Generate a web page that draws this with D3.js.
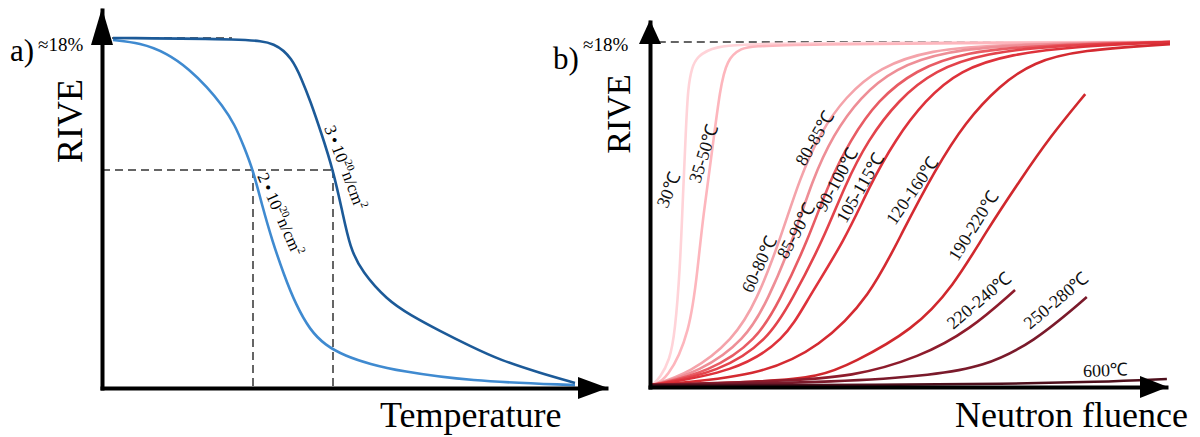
<!DOCTYPE html>
<html>
<head>
<meta charset="utf-8">
<script src="https://cdn.jsdelivr.net/npm/d3@7"></script>
<style>
   body { margin: 0; background: #fff; }
   svg { font-family: "Liberation Serif", "Times New Roman", serif; }
</style>
</head>
<body>
<div class="chart-container"></div>
<script>
// ---- panel a: RIVE (%) against temperature (relative units 0-100) ----
const rive_top = 18;
const low_fluence = [[2.2, 17.9], [7.6, 17.75], [13, 17.23], [17.6, 16.36], [21, 15.48], [24, 14.56],
   [26.6, 13.53], [28.4, 12.4], [30.2, 11.21], [32, 9.41], [34, 7.61], [36.4, 5.81], [38.8, 4.27],
   [41.6, 2.98], [44.6, 2.21], [48.6, 1.65], [53.6, 1.23], [59.6, 0.87], [73, 0.36], [94.6, 0.15]];
const high_fluence = [[2.2, 18.0], [29.6, 17.95], [34.6, 17.75], [38, 16.98], [40, 15.84], [41.6, 14.81],
   [44, 13.01], [46.2, 11.21], [48, 9.16], [49.6, 7.2], [52, 5.97], [57, 4.53], [61.6, 3.76],
   [67.6, 2.93], [73.6, 2.16], [79.6, 1.44], [87.6, 0.77], [94.6, 0.26]];
const fluence_names = ['2', '3'];
const guide_level = 11.21;
const guide_temps = [30.2, 46.2];

// ---- panel b: RIVE (%) against neutron fluence (relative units 0-100) ----
const temp_ranges = ['30℃', '35-50℃', '60-80℃', '80-85℃', '85-90℃', '90-100℃',
   '105-115℃', '120-160℃', '190-220℃', '220-240℃', '250-280℃', '600℃'];
const curve_30 = [[0.4, 0.1], [1.9, 0.47], [3.8, 1.41], [4.8, 2.82], [5.8, 6.26], [6.3, 9.76], [6.9, 13.4],
   [7.3, 15.65], [8.1, 16.7], [9.0, 17.21], [12.1, 17.79], [21.2, 17.95], [100, 18]];
const curve_35_50 = [[0.4, 0.1], [3.3, 0.37], [7.7, 2.82], [9.2, 6.26], [10.2, 8.87], [11.9, 12.2],
   [13.5, 15.65], [14.8, 17.06], [17.3, 17.68], [21.2, 17.89], [100, 18]];
const curve_60_80 = [[0.4, 0.1], [7.7, 0.73], [16.0, 2.45], [20.6, 4.54], [25.0, 7.67], [28.8, 10.9],
   [32.7, 13.25], [37.5, 15.13], [44.2, 16.7], [53.8, 17.58], [67.3, 17.89], [100, 18]];
const curve_80_85 = [[0.4, 0.1], [9.6, 0.78], [18.3, 2.45], [22.7, 4.54], [27.5, 7.67], [31.2, 10.8],
   [35.2, 13.15], [40.4, 15.13], [47.1, 16.64], [56.7, 17.53], [71.2, 17.89], [100, 18]];
const curve_85_90 = [[0.4, 0.1], [11.5, 0.78], [20.6, 2.45], [25.0, 4.54], [30.4, 7.67], [34.2, 10.54],
   [38.5, 12.88], [43.8, 14.97], [51.0, 16.54], [60.6, 17.48], [75.0, 17.84], [100, 18]];
const curve_90_100 = [[0.4, 0.1], [13.5, 0.78], [22.7, 2.45], [27.3, 4.54], [33.3, 7.67], [37.5, 10.54],
   [41.9, 12.88], [47.7, 14.97], [54.8, 16.54], [64.4, 17.42], [78.8, 17.84], [100, 18]];
const curve_105_115 = [[0.4, 0.1], [16.3, 0.78], [26.0, 2.45], [30.2, 4.54], [37.5, 7.67], [42.3, 10.54],
   [47.1, 12.88], [52.9, 14.97], [59.6, 16.54], [69.2, 17.37], [82.7, 17.79], [100, 18]];
const curve_120_160 = [[0.4, 0.1], [21.2, 0.57], [32.7, 2.09], [42.3, 4.69], [48.7, 8.19], [54.8, 11.32],
   [60.6, 13.82], [67.3, 15.75], [73.7, 16.95], [82.7, 17.58], [100, 17.89]];
const curve_190_220 = [[0.4, 0.1], [21.2, 0.26], [32.7, 0.52], [39.0, 1.25], [50.6, 2.97], [58.3, 5.22],
   [64.8, 8.19], [71.2, 10.8], [76.9, 13.04], [83.7, 15.28]];
const curve_220_240 = [[0.4, 0.1], [25.0, 0.31], [39.0, 0.52], [51.9, 1.56], [61.5, 2.97], [70.2, 5.06]];
const curve_250_280 = [[0.4, 0.1], [38.5, 0.26], [54.4, 0.63], [64.0, 1.04], [73.7, 2.3], [84.0, 4.69]];
const curve_600 = [[0.4, 0.1], [48.1, 0.1], [67.3, 0.16], [86.5, 0.26], [99.4, 0.42]];

const fluence_curves = [curve_30, curve_35_50, curve_60_80, curve_80_85, curve_85_90, curve_90_100,
   curve_105_115, curve_120_160, curve_190_220, curve_220_240, curve_250_280, curve_600];

// styles and label placement (label spots are in data units of panel b)
const curve_colors = ['#ffd3d8', '#fdb6bd', '#f4a3aa', '#ee8e96', '#e85c64', '#e3434b',
   '#de323b', '#d42a31', '#d0282d', '#8e1c2c', '#7a1a2b', '#4d0f1c'];
const label_spots = [[3.3, 9.29, -67], [9.6, 10.59, -72], [19.6, 4.85, -65], [29.8, 11.48, -60],
   [26.3, 6.62, -61], [33.7, 9.08, -61], [37.7, 8.5, -60], [47.1, 8.4, -55], [59.2, 6.52, -58],
   [58.3, 2.97, -40], [73.1, 2.97, -40], [83.3, 0.52, -2]];
const fluence_label_spots = [[31.0, 10.9, 66], [44.4, 13.37, 69]];

function build_scales(frame) {
   return {
      x: d3.scaleLinear().domain([0, 100]).range([frame.left, frame.right]),
      y: d3.scaleLinear().domain([0, rive_top]).range([frame.bottom, frame.top])
   };
}

function draw_axes(svg, frame, tips) {
   const xAxisScale = d3.scaleLinear().range([frame.left - 2, tips.x]);
   const yAxisScale = d3.scaleLinear().range([frame.bottom + 2, tips.y]);

   svg.append('g')
      .attr('transform', `translate(0, ${frame.bottom})`)
      .call(d3.axisBottom(xAxisScale).tickValues([]).tickSizeOuter(0))
      .select('.domain').attr('stroke', '#000').attr('stroke-width', 4);
   svg.append('g')
      .attr('transform', `translate(${frame.left}, 0)`)
      .call(d3.axisLeft(yAxisScale).tickValues([]).tickSizeOuter(0))
      .select('.domain').attr('stroke', '#000').attr('stroke-width', 4);

   // arrow heads
   svg.append('path')
      .attr('d', `M${tips.x},${frame.bottom} L${tips.x - tips.len},${frame.bottom - 11} L${tips.x - tips.len},${frame.bottom + 11}Z`)
      .attr('fill', '#000');
   svg.append('path')
      .attr('d', `M${frame.left},${tips.y} L${frame.left - 11},${tips.y + tips.ylen} L${frame.left + 11},${tips.y + tips.ylen}Z`)
      .attr('fill', '#000');
}

function add_titles(svg, frame, t) {
   svg.append('text')
      .attr('x', t.tag_x).attr('y', t.tag_y)
      .attr('font-size', 31)
      .text(t.tag);
   svg.append('text')
      .attr('x', t.pct_x).attr('y', 51)
      .attr('font-size', 19)
      .text('≈18%');
   svg.append('text')
      .attr('transform', `translate(${t.rive_x}, ${t.rive_y}) rotate(-90)`)
      .attr('text-anchor', 'middle')
      .attr('font-size', t.rive_size)
      .text('RIVE');
   svg.append('text')
      .attr('x', t.title_x).attr('y', 427)
      .attr('font-size', 36)
      .text(t.title);
}

function draw_panel_a(svg) {
   const frame = {left: 102, right: 602, top: 38, bottom: 388};
   const s = build_scales(frame);

   // dashed guides
   const dash = '8,5';
   svg.append('line')
      .attr('x1', s.x(2)).attr('x2', s.x(26)).attr('y1', s.y(rive_top)).attr('y2', s.y(rive_top))
      .attr('stroke', '#333').attr('stroke-width', 1.5).attr('stroke-dasharray', dash);
   svg.append('line')
      .attr('x1', s.x(0)).attr('x2', s.x(d3.max(guide_temps)))
      .attr('y1', s.y(guide_level)).attr('y2', s.y(guide_level))
      .attr('stroke', '#333').attr('stroke-width', 1.5).attr('stroke-dasharray', dash);
   svg.selectAll('.guide-v')
      .data(guide_temps)
      .enter()
      .append('line')
      .attr('class', 'guide-v')
      .attr('x1', d => s.x(d)).attr('x2', d => s.x(d))
      .attr('y1', s.y(guide_level)).attr('y2', s.y(0))
      .attr('stroke', '#333').attr('stroke-width', 1.5).attr('stroke-dasharray', dash);

   const line = d3.line()
      .x(d => s.x(d[0]))
      .y(d => s.y(d[1]))
      .curve(d3.curveBasis);

   svg.selectAll('.temp-curve')
      .data([low_fluence, high_fluence])
      .enter()
      .append('path')
      .attr('class', 'temp-curve')
      .attr('d', line)
      .attr('fill', 'none')
      .attr('stroke', (d, i) => ['#3f8ad0', '#1c5a98'][i])
      .attr('stroke-width', 2.6);

   // rotated fluence labels
   fluence_names.forEach((name, i) => {
      const [lx, ly, ang] = fluence_label_spots[i];
      const label = svg.append('text')
         .attr('transform', `translate(${s.x(lx)}, ${s.y(ly)}) rotate(${ang})`)
         .attr('font-size', 17);
      label.append('tspan').text(name + '\u2009•\u200910');
      label.append('tspan').attr('dy', -7).attr('font-size', 11).text('20');
      label.append('tspan').attr('dy', 7).text('n/cm');
      label.append('tspan').attr('dy', -7).attr('font-size', 11).text('2');
   });

   draw_axes(svg, frame, {x: 608, y: 8, len: 30, ylen: 37});
   add_titles(svg, frame, {
      tag: 'a)', tag_x: 10, tag_y: 61, pct_x: 38,
      rive_x: 82, rive_y: 121, rive_size: 36,
      title: 'Temperature', title_x: 380
   });
}

function draw_panel_b(svg) {
   const frame = {left: 650, right: 1170, top: 42, bottom: 387};
   const s = build_scales(frame);

   svg.append('line')
      .attr('x1', s.x(1.5)).attr('x2', s.x(100)).attr('y1', s.y(rive_top)).attr('y2', s.y(rive_top))
      .attr('stroke', '#333').attr('stroke-width', 1.5).attr('stroke-dasharray', '8,5');

   const line = d3.line()
      .x(d => s.x(d[0]))
      .y(d => s.y(d[1]))
      .curve(d3.curveBasis);

   svg.selectAll('.fluence-curve')
      .data(fluence_curves)
      .enter()
      .append('path')
      .attr('class', 'fluence-curve')
      .attr('d', line)
      .attr('fill', 'none')
      .attr('stroke', (d, i) => curve_colors[i])
      .attr('stroke-width', 2.6);

   svg.selectAll('.temp-label')
      .data(temp_ranges)
      .enter()
      .append('text')
      .attr('class', 'temp-label')
      .attr('transform', (d, i) => {
         const [lx, ly, ang] = label_spots[i];
         return `translate(${s.x(lx)}, ${s.y(ly)}) rotate(${ang})`;
      })
      .attr('font-size', 18)
      .attr('fill', '#111')
      .text(d => d);

   draw_axes(svg, frame, {x: 1168, y: 20, len: 28, ylen: 24});
   add_titles(svg, frame, {
      tag: 'b)', tag_x: 553, tag_y: 69, pct_x: 583,
      rive_x: 630, rive_y: 114, rive_size: 34,
      title: 'Neutron fluence', title_x: 955
   });
}

function build_chart() {
   const svg = d3.select('.chart-container')
      .append('svg')
      .attr('width', 1200)
      .attr('height', 437);
   draw_panel_a(svg);
   draw_panel_b(svg);
}

build_chart();
</script>
</body>
</html>
